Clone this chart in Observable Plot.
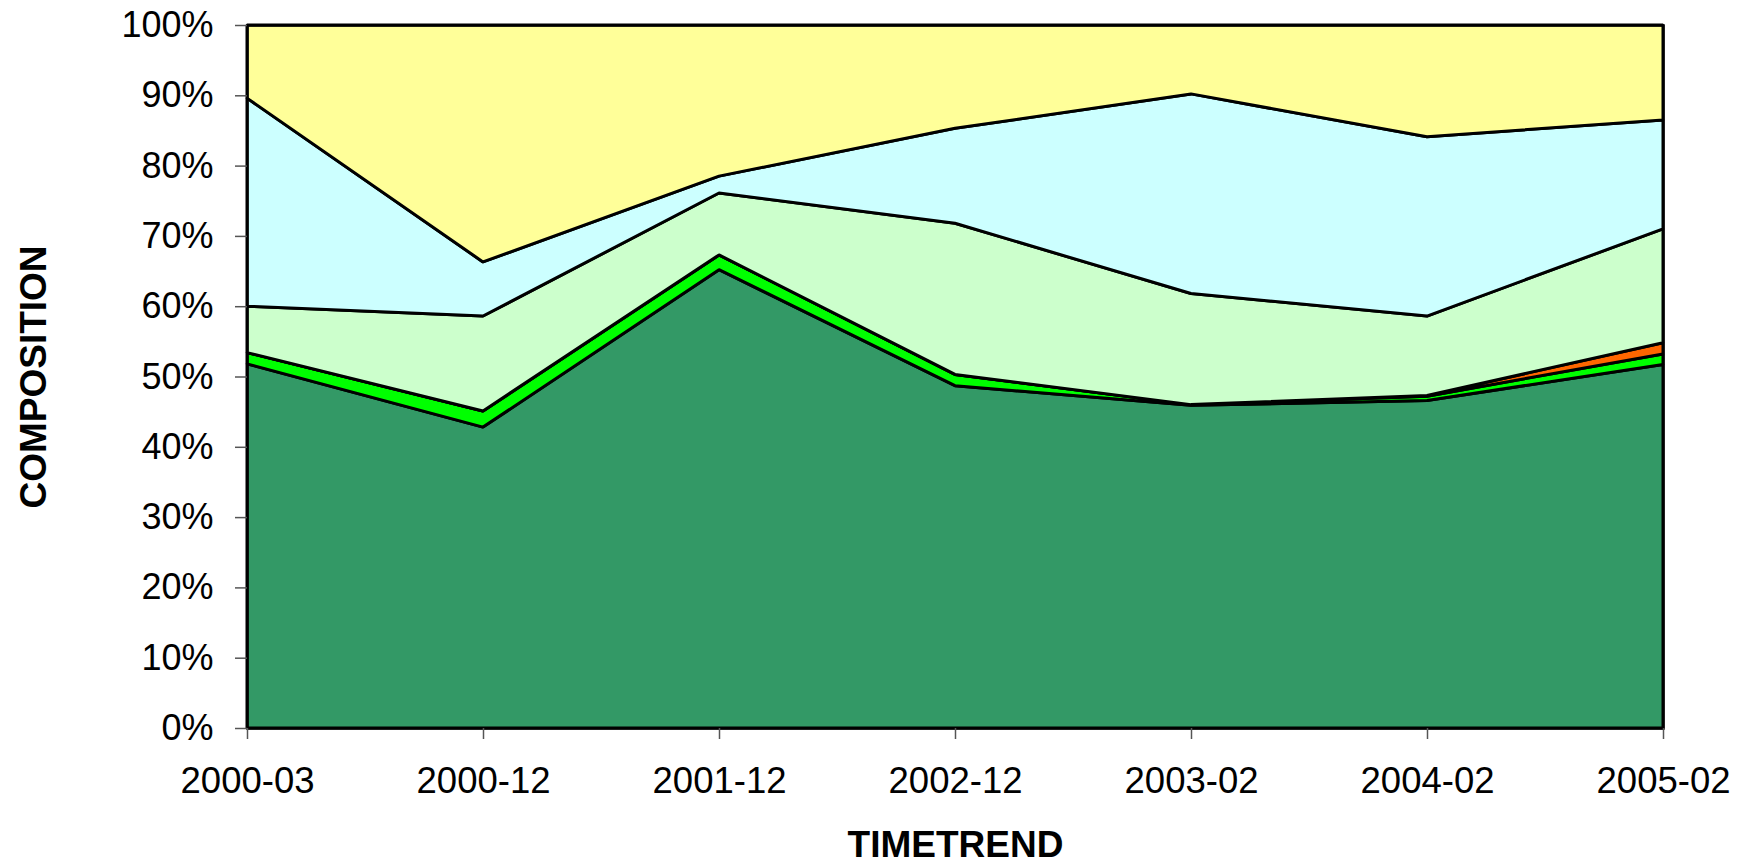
<!DOCTYPE html>
<html>
<head>
<meta charset="utf-8">
<script src="https://cdn.jsdelivr.net/npm/d3@7"></script>
<script src="https://cdn.jsdelivr.net/npm/@observablehq/plot@0.6"></script>
<style>
  html, body { margin: 0; padding: 0; background: #fff; }
  #chart { width: 1744px; height: 866px; }
</style>
</head>
<body>
<div id="chart"></div>
<script>
const periods = ["2000-03", "2000-12", "2001-12", "2002-12", "2003-02", "2004-02", "2005-02"];
const seriesNames = ["S1", "S2", "S3", "S4", "S5", "S6"];
const seriesColors = ["#339966", "#00FF00", "#FF6600", "#CCFFCC", "#CCFFFF", "#FFFF99"];
const darkGreen   = [51.8, 42.8, 65.2, 48.7, 45.9, 46.6, 51.7];
const brightGreen = [1.6, 2.3, 2.1, 1.6, 0.1, 0.6, 1.5];
const orange      = [0, 0, 0, 0, 0, 0.1, 1.6];
const lightGreen  = [6.6, 13.5, 8.8, 21.5, 15.8, 11.3, 16.2];
const cyan        = [29.6, 7.7, 2.4, 13.5, 28.4, 25.5, 15.5];
const yellow      = [10.4, 33.7, 21.5, 14.7, 9.8, 15.9, 13.5];
const yTicks = [0, 0.1, 0.2, 0.3, 0.4, 0.5, 0.6, 0.7, 0.8, 0.9, 1.0];

const seriesValues = [darkGreen, brightGreen, orange, lightGreen, cyan, yellow];
const rows = [];
seriesNames.forEach((s, si) => {
  periods.forEach((p, pi) => rows.push({period: p, series: s, value: seriesValues[si][pi]}));
});

const font = "'Liberation Sans', Arial, sans-serif";

const chart = Plot.plot({
  width: 1744,
  height: 866,
  marginLeft: 247,
  marginRight: 81,
  marginTop: 25,
  marginBottom: 138,
  style: {fontFamily: font, fontSize: "36px", background: "#fff", overflow: "visible"},
  x: {type: "point", domain: periods, padding: 0},
  y: {domain: [0, 1]},
  color: {domain: seriesNames, range: seriesColors},
  marks: [
    Plot.areaY(rows, Plot.stackY({
      x: "period", y: "value", z: "series", fill: "series",
      order: seriesNames, offset: "normalize",
      stroke: "black", strokeWidth: 3, strokeLinejoin: "miter"
    })),
    Plot.frame({stroke: "black", strokeWidth: 2.5}),
    Plot.axisY({
      ticks: yTicks, tickFormat: d3.format(".0%"),
      tickSize: 12, tickPadding: 22, fontSize: 36, stroke: "#555", strokeWidth: 1.5,
      label: null
    }),
    Plot.axisX({
      tickSize: 11, tickPadding: 28, fontSize: 36.5, stroke: "#555", strokeWidth: 1.5,
      label: null
    }),
    Plot.text(["TIMETREND"], {
      frameAnchor: "bottom", textAnchor: "middle", lineAnchor: "middle",
      dy: 117, fontSize: 37, fontWeight: "bold", fill: "black"
    }),
    Plot.text(["COMPOSITION"], {
      frameAnchor: "left", textAnchor: "middle", lineAnchor: "middle",
      dx: -213, rotate: -90, fontSize: 37, fontWeight: "bold", fill: "black"
    })
  ]
});
document.getElementById("chart").appendChild(chart);
</script>
</body>
</html>
